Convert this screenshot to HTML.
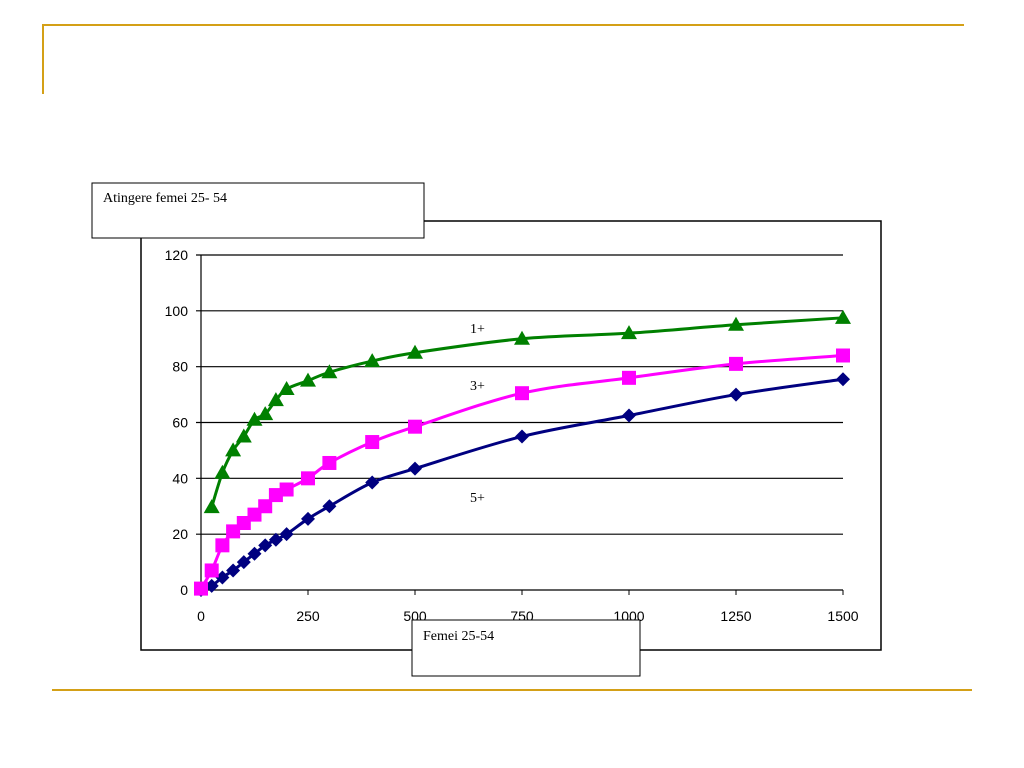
<!DOCTYPE html>
<html><head><meta charset="utf-8"><style>body{margin:0;background:#fff}svg{display:block}</style></head>
<body>
<svg width="1024" height="768" xmlns="http://www.w3.org/2000/svg" font-family="Liberation Sans, sans-serif">
<line x1="42" y1="25" x2="964" y2="25" stroke="#d4a017" stroke-width="2"/>
<line x1="43" y1="24" x2="43" y2="94" stroke="#d4a017" stroke-width="2"/>
<line x1="52" y1="690" x2="972" y2="690" stroke="#d4a017" stroke-width="2"/>
<rect x="141" y="221" width="740" height="429" fill="#fff" stroke="#000" stroke-width="1.5"/>
<g id="grid"></g><g id="series"></g>
<rect x="92" y="183" width="332" height="55" fill="#fff" stroke="#000"/>
<text x="103" y="202" font-family="Liberation Serif, serif" font-size="14">Atingere femei  25- 54</text>
<rect x="412" y="620" width="228" height="56" fill="#fff" stroke="#000"/>
<text x="423" y="640" font-family="Liberation Serif, serif" font-size="14">Femei 25-54</text>
<text x="470" y="333" font-family="Liberation Serif, serif" font-size="14">1+</text>
<text x="470" y="390" font-family="Liberation Serif, serif" font-size="14">3+</text>
<text x="470" y="502" font-family="Liberation Serif, serif" font-size="14">5+</text>
</svg>
<script>
const xValues=[0,25,50,75,100,125,150,175,200,250,300,400,500,750,1000,1250,1500];
const reach1=[null,29.7,42,50,55,61,63,68,72,75,78,82,85,90,92,95,97.5];
const reach3=[0.5,7,16,21,24,27,30,34,36,40,45.5,53,58.5,70.5,76,81,84];
const reach5=[0,1.5,4.5,7,10,13,16,18,20,25.5,30,38.5,43.5,55,62.5,70,75.5];
const yTicks=[0,20,40,60,80,100,120];
const xTicks=[0,250,500,750,1000,1250,1500];
const NS="http://www.w3.org/2000/svg";
const X=v=>201+v*(843-201)/1500, Y=v=>590-v*(590-255)/120;
function mk(t,a,p){const e=document.createElementNS(NS,t);for(const k in a)e.setAttribute(k,a[k]);p.appendChild(e);return e;}
const g=document.getElementById('grid');
yTicks.forEach(t=>{const l=mk('line',{x1:196,x2:843,y1:Y(t),y2:Y(t),stroke:'#000','stroke-width':1.2},g);


const tx=mk('text',{x:188,y:Y(t)+5,'text-anchor':'end','font-size':14},g);tx.textContent=t;

});
const ax=mk('line',{x1:201,x2:201,y1:255,y2:595,stroke:'#000','stroke-width':1.2},g);


xTicks.forEach(t=>{const l=mk('line',{x1:X(t),x2:X(t),y1:590,y2:595,stroke:'#000'},g);


const tx=mk('text',{x:X(t),y:621,'text-anchor':'middle','font-size':14},g);tx.textContent=t;

});
const s=document.getElementById('series');
function path(pts){let d='M'+pts[0][0]+','+pts[0][1];for(let i=0;i<pts.length-1;i++){const p0=pts[i-1]||pts[i],p1=pts[i],p2=pts[i+1],p3=pts[i+2]||p2;
d+=' C'+(p1[0]+(p2[0]-p0[0])/6)+','+(p1[1]+(p2[1]-p0[1])/6)+' '+(p2[0]-(p3[0]-p1[0])/6)+','+(p2[1]-(p3[1]-p1[1])/6)+' '+p2[0]+','+p2[1];}return d;}
function series(vals,color,shape,name){const pts=[];vals.forEach((v,i)=>{if(v!=null)pts.push([X(xValues[i]),Y(v)]);});
const ln=mk('path',{d:path(pts),fill:'none',stroke:color,'stroke-width':3},s);


pts.forEach(([x,y])=>{let m;
if(shape==='tri')m=mk('polygon',{points:`${x},${y-8} ${x-8},${y+6} ${x+8},${y+6}`,fill:color},s);
else if(shape==='sq')m=mk('rect',{x:x-7,y:y-7,width:14,height:14,fill:color},s);
else m=mk('polygon',{points:`${x},${y-7} ${x+7},${y} ${x},${y+7} ${x-7},${y}`,fill:color},s);

});}
series(reach5,'#000080','dia','reach-5plus');
series(reach3,'#ff00ff','sq','reach-3plus');
series(reach1,'#008000','tri','reach-1plus');
</script>
</body></html>
